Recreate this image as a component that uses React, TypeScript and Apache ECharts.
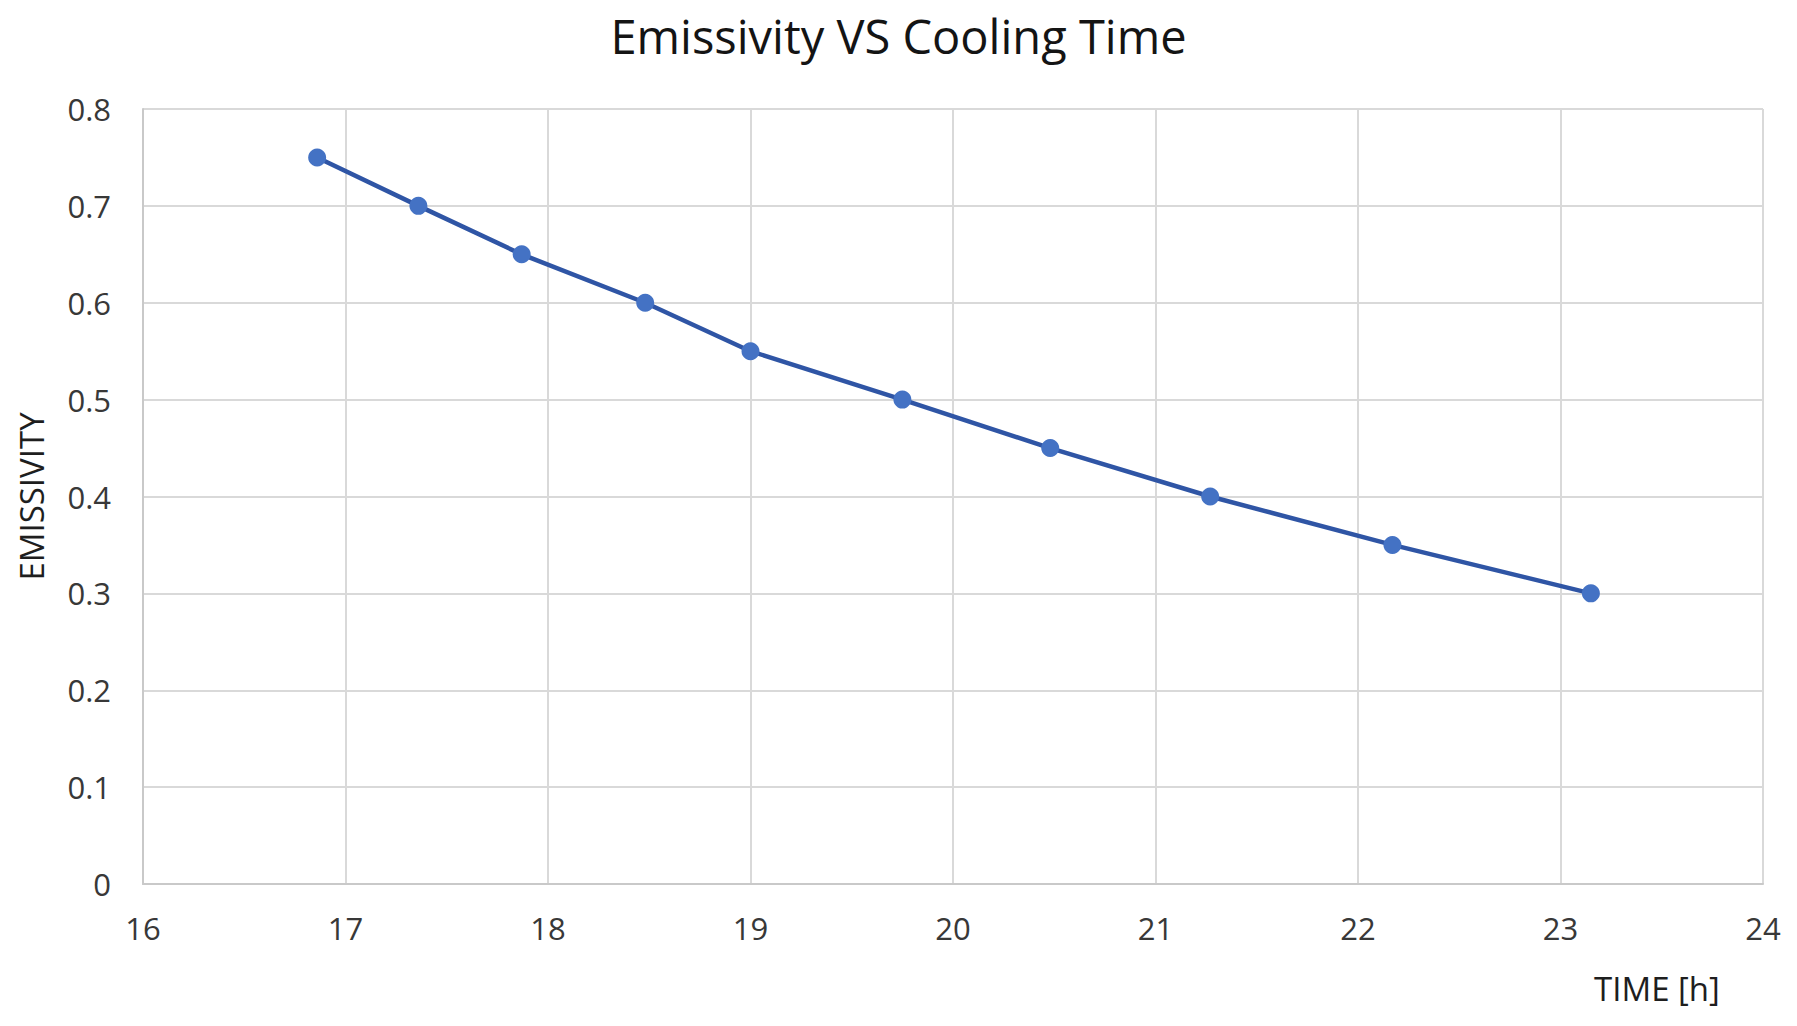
import { useEffect, useRef } from "react";
import * as echarts from "echarts";

const TIME_H = [16.86, 17.36, 17.87, 18.48, 19.0, 19.75, 20.48, 21.27, 22.17, 23.15];
const EMISSIVITY = [0.75, 0.7, 0.65, 0.6, 0.55, 0.5, 0.45, 0.4, 0.35, 0.3];

const TITLE = "Emissivity VS Cooling Time";
const X_NAME = "TIME [h]";
const Y_NAME = "EMISSIVITY";

const FONT = "'Open Sans', 'Noto Sans', sans-serif";
const TEXT_COLOR = "#383838";
const GRID_COLOR = "#d9d9d9";

export default function App() {
  const rootRef = useRef<HTMLDivElement | null>(null);

  useEffect(() => {
    if (!rootRef.current) {
      return;
    }
    const chart = echarts.init(rootRef.current, undefined, { renderer: "svg" });

    chart.setOption({
      animation: false,
      backgroundColor: "#ffffff",
      title: {
        text: TITLE,
        left: "center",
        top: 7,
        textStyle: {
          fontFamily: FONT,
          fontSize: 47,
          fontWeight: "normal",
          color: "#141414",
        },
      },
      grid: {
        left: 143,
        right: 34,
        top: 109,
        bottom: 142,
        containLabel: false,
      },
      xAxis: {
        type: "value",
        min: 16,
        max: 24,
        interval: 1,
        axisLine: { show: true, lineStyle: { color: "#c9c9c9", width: 2 } },
        axisTick: { show: false },
        axisLabel: {
          color: TEXT_COLOR,
          fontFamily: FONT,
          fontSize: 31,
          margin: 28,
        },
        splitLine: { show: true, lineStyle: { color: GRID_COLOR, width: 2 } },
      },
      yAxis: {
        type: "value",
        min: 0,
        max: 0.8,
        interval: 0.1,
        name: Y_NAME,
        nameLocation: "middle",
        nameRotate: 90,
        nameGap: 95,
        nameTextStyle: {
          color: "#1e1e1e",
          fontFamily: FONT,
          fontSize: 33,
        },
        axisLine: { show: true, lineStyle: { color: "#c9c9c9", width: 2 } },
        axisTick: { show: false },
        axisLabel: {
          color: TEXT_COLOR,
          fontFamily: FONT,
          fontSize: 31,
          margin: 32,
          formatter: (v: number) => (v === 0 ? "0" : v.toFixed(1)),
        },
        splitLine: { show: true, lineStyle: { color: GRID_COLOR, width: 2 } },
      },
      graphic: [
        {
          type: "text",
          silent: true,
          x: 1657,
          y: 988,
          style: {
            text: X_NAME,
            fill: "#1e1e1e",
            font: `33px ${FONT}`,
            align: "center",
            verticalAlign: "middle",
          },
        },
      ],
      series: [
        {
          type: "line",
          data: TIME_H.map((t, i) => [t, EMISSIVITY[i]]),
          symbol: "circle",
          symbolSize: 18,
          showSymbol: true,
          lineStyle: { color: "#2f55a5", width: 4.5 },
          itemStyle: { color: "#4472c4", borderWidth: 0 },
          z: 3,
        },
      ],
    });

    return () => {
      chart.dispose();
    };
  }, []);

  return (
    <div
      ref={rootRef}
      style={{ position: "absolute", left: 0, top: 0, width: 1797, height: 1026 }}
    />
  );
}
